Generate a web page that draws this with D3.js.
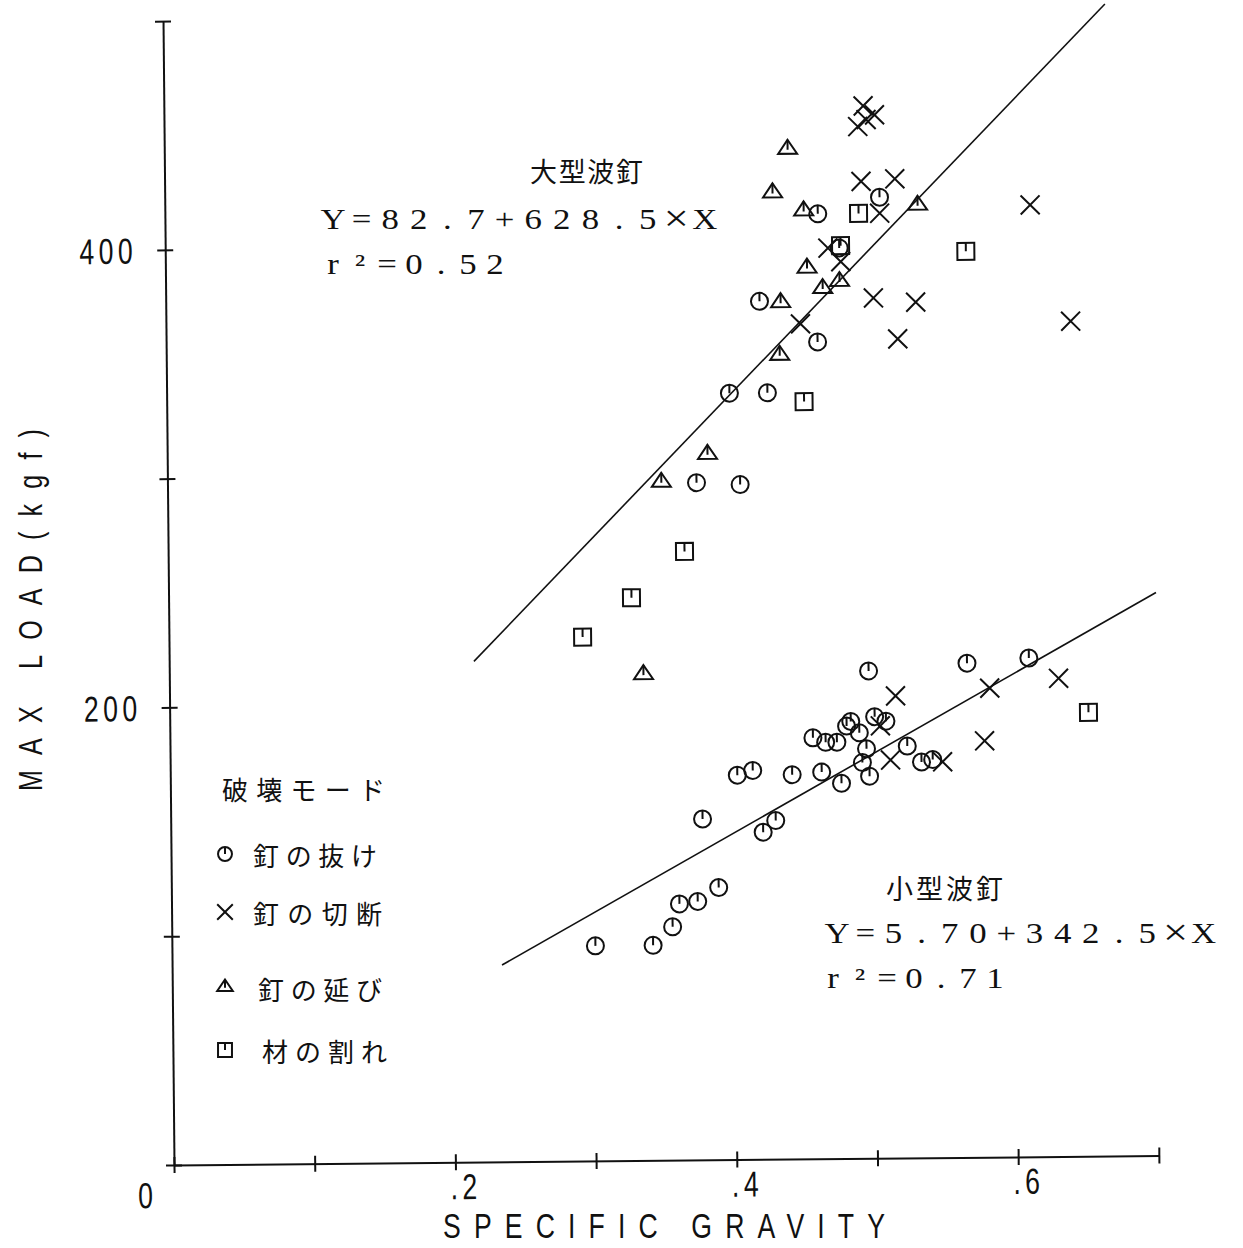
<!DOCTYPE html>
<html>
<head>
<meta charset="utf-8">
<script src="https://cdn.jsdelivr.net/npm/d3@7"></script>
<style>
  body { margin: 0; background: #fff; }
  svg { display: block; }
</style>
</head>
<body>
<svg width="1243" height="1248"></svg>
<script>
// values: [specific gravity, max load (kgf)]
const bigPullout = [[0.464, 413], [0.508, 420], [0.479, 398], [0.422, 375], [0.463, 357],
  [0.400, 335], [0.427, 335], [0.376, 296], [0.407, 295]];
const bigShear = [[0.497, 460], [0.505, 456], [0.493, 451], [0.499, 454], [0.495, 427],
  [0.519, 428], [0.508, 413], [0.471, 398], [0.480, 392], [0.503, 376], [0.533, 374],
  [0.615, 416], [0.520, 358], [0.643, 365], [0.451, 365]];
const bigStretch = [[0.443, 442], [0.432, 423], [0.454, 415], [0.456, 390], [0.467, 381],
  [0.479, 384], [0.437, 375], [0.535, 417], [0.436, 352], [0.384, 309], [0.351, 297], [0.337, 213]];
const bigSplit = [[0.493, 413], [0.480, 399], [0.569, 396], [0.453, 331], [0.367, 266],
  [0.329, 246], [0.294, 229]];

const smallPullout = [[0.301, 94], [0.342, 94], [0.356, 102], [0.361, 112], [0.374, 113],
  [0.389, 119], [0.378, 149], [0.421, 143], [0.430, 148], [0.403, 168], [0.414, 170],
  [0.442, 168], [0.463, 169], [0.477, 164], [0.497, 213], [0.567, 216], [0.611, 218],
  [0.457, 184], [0.466, 182], [0.474, 182], [0.481, 189], [0.484, 191], [0.490, 186],
  [0.501, 193], [0.509, 191], [0.495, 179], [0.492, 173], [0.497, 167], [0.524, 180],
  [0.534, 173], [0.542, 174]];
const smallShear = [[0.516, 202], [0.583, 205], [0.632, 209], [0.579, 182], [0.512, 174],
  [0.549, 173], [0.505, 189]];
const smallSplit = [[0.653, 194]];

// regression lines Y = a + b*X, drawn over the SG span shown
const fits = [
  { a: 82.7, b: 628.5, from: 0.2166, to: 0.6695 },
  { a: 5.70, b: 342.5, from: 0.2345, to: 0.7018 },
];

const xTicks = [0, 0.1, 0.2, 0.3, 0.4, 0.5, 0.6, 0.7];
const xTickLabels = ['0', '', '.2', '', '.4', '', '.6', ''];
const yTicks = [0, 100, 200, 300, 400, 500];
const yTickLabels = ['', '', '200', '', '400', ''];

const legendTitle = '破壊モード';
const legendItems = [
  { type: 'pullout', label: '釘の抜け' },
  { type: 'shear', label: '釘の切断' },
  { type: 'stretch', label: '釘の延び' },
  { type: 'split', label: '材の割れ' },
];

const series = [
  { type: 'pullout', data: bigPullout },
  { type: 'pullout', data: smallPullout },
  { type: 'shear', data: bigShear },
  { type: 'shear', data: smallShear },
  { type: 'stretch', data: bigStretch },
  { type: 'split', data: bigSplit },
  { type: 'split', data: smallSplit },
];

const sans = '"Liberation Sans", Arial, sans-serif';
const serif = '"Liberation Serif", "DejaVu Serif", serif';
const cjk = '"Noto Sans CJK JP", "Noto Sans CJK SC", sans-serif';
const ink = '#111';
const narrow = 0.74; // plotter lettering is tall and thin

const svg = d3.select('svg');

const x = d3.scaleLinear().domain([0, 0.7]).range([174, 174 + 0.7 * 1407]);
const y = d3.scaleLinear().domain([0, 500]).range([1165, 1165 - 500 * 2.288]);

// the scanned figure sits slightly skewed on the page
const plot = svg.append('g')
      .attr('transform', `rotate(-0.55, ${x(0)}, ${y(0)})`);

const gx = plot.append('g')
      .attr('transform', `translate(0,${y(0)})`)
      .call(d3.axisBottom(x).tickValues(xTicks).tickSize(0).tickSizeOuter(0)
        .tickFormat((d, i) => xTickLabels[i]));

gx.select('.domain').style('stroke', ink).style('stroke-width', '2px');
gx.selectAll('.tick line').attr('y1', -8).attr('y2', 8)
      .style('stroke', ink).style('stroke-width', '2px');
gx.selectAll('.tick text')
      .attr('y', (d, i) => (i === 0 ? 43 : 37))
      .attr('dy', null)
      .attr('x', (d, i) => (i === 0 ? -27 : 10) / narrow)
      .attr('transform', `scale(${narrow},1)`)
      .style('font-family', sans)
      .style('font-size', '36px')
      .style('letter-spacing', '6px')
      .style('fill', ink);

const gy = plot.append('g')
      .attr('transform', `translate(${x(0)},0)`)
      .call(d3.axisLeft(y).tickValues(yTicks).tickSize(0).tickSizeOuter(0)
        .tickFormat((d, i) => yTickLabels[i]));

gy.select('.domain').style('stroke', ink).style('stroke-width', '2px');
gy.selectAll('.tick line').attr('x1', -8).attr('x2', 8)
      .style('stroke', ink).style('stroke-width', '2px');
gy.selectAll('.tick text')
      .attr('x', -28 / narrow)
      .attr('dy', '0.36em')
      .attr('transform', `scale(${narrow},1)`)
      .style('font-family', sans)
      .style('font-size', '36px')
      .style('letter-spacing', '6px')
      .style('fill', ink);

const line = d3.line().x(d => x(d[0])).y(d => y(d[1]));

plot.selectAll('path.fit')
      .data(fits)
      .enter()
      .append('path')
      .attr('class', 'fit')
      .attr('d', f => line([[f.from, f.a + f.b * f.from], [f.to, f.a + f.b * f.to]]))
      .style('fill', 'none')
      .style('stroke', ink)
      .style('stroke-width', '1.6px');

function drawMarker(g, type, s) {
  const path = (d) => {
    g.append('path').attr('d', d)
          .attr('fill', 'none').attr('stroke', ink).attr('stroke-width', 2);
  };
  if (type === 'pullout') {
    g.append('circle').attr('r', 8.5 * s).attr('fill', 'none').attr('stroke', ink).attr('stroke-width', 2);
    path(`M0,${-8.5 * s}V0`);
  } else if (type === 'shear') {
    const h = 9.5 * s;
    path(`M${-h},${-h}L${h},${h}M${-h},${h}L${h},${-h}`);
  } else if (type === 'stretch') {
    path(`M0,${-8 * s}L${9.5 * s},${6 * s}L${-9.5 * s},${6 * s}Z`);
    path(`M0,${-8 * s}V${2 * s}`);
  } else {
    const h = 8.5 * s;
    path(`M${-h},${-h}H${h}V${h}H${-h}Z`);
    path(`M0,${-h}V0`);
  }
}

series.forEach((s) => {
  plot.append('g')
        .selectAll('g.pt')
        .data(s.data)
        .enter()
        .append('g')
        .attr('class', 'pt')
        .attr('transform', d => `translate(${x(d[0])},${y(d[1])})`)
        .each(function () { drawMarker(d3.select(this), s.type, 1); });
});

// annotations (unrotated layer)
const notes = svg.append('g').style('fill', ink);

notes.append('text')
      .attr('transform', `translate(42,791) rotate(-90) scale(${narrow},1)`)
      .attr('textLength', 362 / narrow)
      .attr('lengthAdjust', 'spacing')
      .style('font-family', sans)
      .style('font-size', '34px')
      .text('MAX LOAD(kgf)');

notes.append('text')
      .attr('transform', `translate(443,1238) scale(${narrow},1)`)
      .attr('textLength', 442 / narrow)
      .attr('lengthAdjust', 'spacing')
      .style('font-family', sans)
      .style('font-size', '36px')
      .text('SPECIFIC GRAVITY');

// equation lines are set on a fixed character grid, like the typewriter original
function gridText(str, x0, pitch, yb) {
  Array.from(str).forEach((c, i) => {
    const big = c === '×';
    notes.append('text')
          .attr('transform', `translate(${x0 + i * pitch},${yb + (big ? 2 : 0)}) scale(1.2,1)`)
          .attr('text-anchor', 'middle')
          .style('font-family', serif)
          .style('font-size', big ? '37px' : '29px')
          .text(c);
  });
}

notes.append('text')
      .attr('x', 530).attr('y', 182)
      .attr('textLength', 113).attr('lengthAdjust', 'spacing')
      .style('font-family', cjk).style('font-size', '27px')
      .text('大型波釘');
gridText('Y=82.7+628.5×X', 333, 28.6, 229);
gridText('r²=0.52', 333, 27, 274);

notes.append('text')
      .attr('x', 886).attr('y', 899)
      .attr('textLength', 117).attr('lengthAdjust', 'spacing')
      .style('font-family', cjk).style('font-size', '27px')
      .text('小型波釘');
gridText('Y=5.70+342.5×X', 837, 28.2, 943);
gridText('r²=0.71', 833, 27, 988);

// legend
notes.append('text')
      .attr('x', 222).attr('y', 800)
      .attr('textLength', 163).attr('lengthAdjust', 'spacing')
      .style('font-family', cjk).style('font-size', '26px')
      .text(legendTitle);

const legendRows = [
  { cy: 856, x0: 253, x1: 377 },
  { cy: 914, x0: 253, x1: 382 },
  { cy: 990, x0: 258, x1: 382 },
  { cy: 1052, x0: 262, x1: 387 },
];

legendItems.forEach((item, i) => {
  const r = legendRows[i];
  const g = notes.append('g').attr('transform', `translate(225,${r.cy - (item.type === 'stretch' ? 4 : 2)})`);
  drawMarker(g, item.type, 0.82);
  notes.append('text')
        .attr('x', r.x0).attr('y', r.cy + 10)
        .attr('textLength', r.x1 - r.x0).attr('lengthAdjust', 'spacing')
        .style('font-family', cjk).style('font-size', '26px')
        .text(item.label);
});
</script>
</body>
</html>
